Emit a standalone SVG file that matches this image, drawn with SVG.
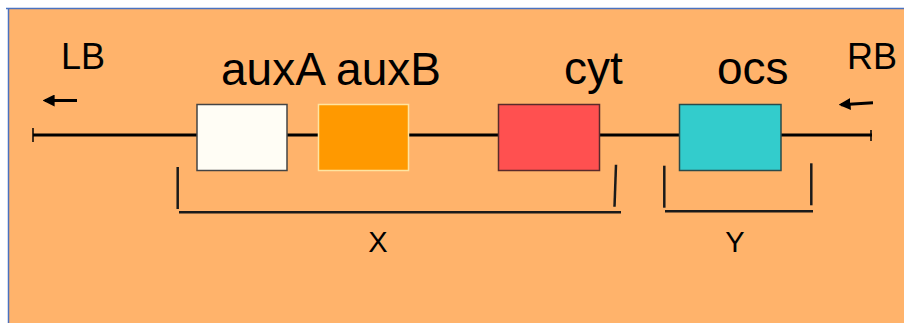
<svg xmlns="http://www.w3.org/2000/svg" width="904" height="323" viewBox="0 0 904 323">
<style>
.lbl{font-family:"Liberation Sans",Arial,sans-serif;fill:#000}
.ln{stroke:#000;fill:none;stroke-width:3}
.br{stroke:#1a1a1a;fill:none;stroke-width:2.5}
.box{stroke-width:1.5}
</style>
<defs>
<marker id="ah" viewBox="0 0 10 10" refX="8" refY="5" markerWidth="4" markerHeight="4" orient="auto">
<path d="M10,5 L0,0 L0,10 Z" fill="#000"/>
</marker>
</defs>
<rect x="0" y="0" width="904" height="323" fill="#fff"/>
<rect x="9" y="9" width="895" height="314" fill="#FFB36B"/>
<line x1="6" y1="8.5" x2="904" y2="8.5" stroke="#4a72c0" stroke-width="1.5"/>
<line x1="8.5" y1="8" x2="8.5" y2="323" stroke="#4a72c0" stroke-width="1.5"/>
<g id="connectors">
<line class="ln" x1="33" y1="135" x2="872" y2="135"/>
<line x1="33" y1="128" x2="33" y2="142" stroke="#000" stroke-width="1.5"/>
<line x1="871" y1="130" x2="871" y2="141" stroke="#000" stroke-width="1.5"/>
<line class="ln" x1="77" y1="100.5" x2="45" y2="100.5" marker-end="url(#ah)"/>
<line class="ln" x1="873" y1="102.7" x2="841" y2="104.7" marker-end="url(#ah)"/>
</g>
<g id="LB"><text class="lbl" x="61" y="69" font-size="36">LB</text></g>
<g id="RB"><text class="lbl" x="847" y="69" font-size="36">RB</text></g>
<g id="labels-top">
<text class="lbl" x="221" y="85" font-size="46">auxA auxB</text>
<text class="lbl" x="564" y="84" font-size="46">cyt</text>
<text class="lbl" x="717" y="84" font-size="46">ocs</text>
</g>
<g id="auxA"><rect class="box" x="197" y="104.5" width="90" height="66" fill="#FFFDF5" stroke="#444"/></g>
<g id="auxB"><rect class="box" x="318.5" y="104.5" width="90" height="66" fill="#FF9900" stroke="#FFE4A0"/></g>
<g id="cyt"><rect class="box" x="498.5" y="104.5" width="101" height="66" fill="#FF5050" stroke="#5a2a2a"/></g>
<g id="ocs"><rect class="box" x="679.5" y="104.5" width="101.5" height="66" fill="#33CCCC" stroke="#2a4a4a"/></g>
<g id="X">
<line class="br" x1="177.7" y1="167" x2="177.7" y2="209"/>
<line class="br" x1="179" y1="212.3" x2="621" y2="212.3"/>
<line class="br" x1="616" y1="164.7" x2="614.5" y2="206.7"/>
<text class="lbl" x="378" y="252" font-size="29" text-anchor="middle">X</text>
</g>
<g id="Y">
<line class="br" x1="664.3" y1="165.7" x2="664.3" y2="207.7"/>
<line class="br" x1="665" y1="211.3" x2="813" y2="211.3"/>
<line class="br" x1="811.3" y1="163.3" x2="811.3" y2="205.3"/>
<text class="lbl" x="735" y="252" font-size="29" text-anchor="middle">Y</text>
</g>
</svg>
